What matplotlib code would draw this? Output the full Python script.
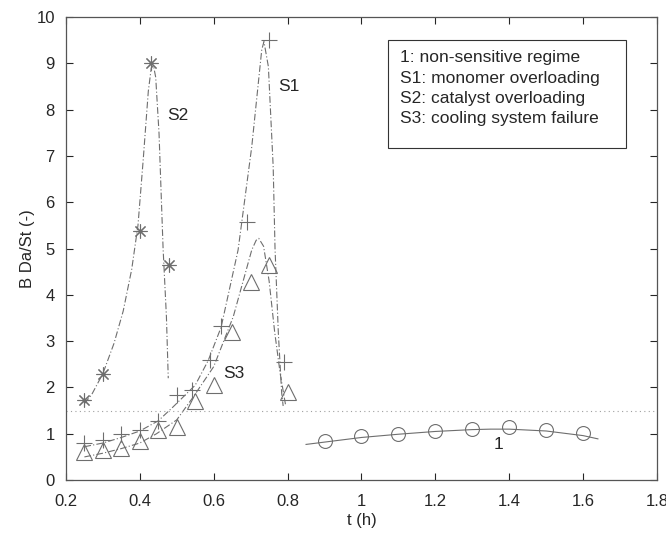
import matplotlib
matplotlib.use("Agg")
import matplotlib.pyplot as plt
from matplotlib.patches import Rectangle

plt.rcParams['font.family'] = ['Liberation Sans', 'DejaVu Sans']

# ---- measured points ----
t_s1 = [0.25, 0.30, 0.35, 0.40, 0.45, 0.50, 0.54, 0.59, 0.62, 0.69, 0.75, 0.79]
v_s1 = [0.80, 0.87, 0.99, 1.08, 1.27, 1.84, 1.95, 2.59, 3.32, 5.58, 9.50, 2.56]

t_s2 = [0.25, 0.30, 0.40, 0.43, 0.48]
v_s2 = [1.72, 2.30, 5.38, 9.00, 4.65]

t_s3 = [0.25, 0.30, 0.35, 0.40, 0.45, 0.50, 0.55, 0.60, 0.65, 0.70, 0.75, 0.80]
v_s3 = [0.61, 0.65, 0.70, 0.84, 1.08, 1.14, 1.70, 2.06, 3.19, 4.28, 4.64, 1.91]

t_1 = [0.9, 1.0, 1.1, 1.2, 1.3, 1.4, 1.5, 1.6]
v_1 = [0.84, 0.95, 1.00, 1.06, 1.10, 1.15, 1.09, 1.02]

# ---- model curves ----
ct_s1 = [0.25, 0.30, 0.35, 0.40, 0.45, 0.49, 0.55, 0.585, 0.62, 0.666, 0.703, 0.73, 0.736, 0.748, 0.761, 0.766, 0.775, 0.784, 0.788]
cv_s1 = [0.72, 0.80, 0.92, 1.06, 1.28, 1.58, 2.05, 2.58, 3.3, 4.97, 7.2, 9.29, 9.47, 8.93, 6.77, 5.0, 3.17, 1.88, 1.6]

ct_s2 = [0.25, 0.27, 0.30, 0.33, 0.355, 0.378, 0.395, 0.409, 0.423, 0.431, 0.437, 0.443, 0.452, 0.463, 0.472, 0.477]
cv_s2 = [1.65, 1.85, 2.30, 2.95, 3.65, 4.55, 5.5, 6.9, 8.4, 8.9, 8.95, 8.7, 7.49, 5.0, 3.53, 2.2]

ct_s3 = [0.25, 0.30, 0.35, 0.40, 0.445, 0.50, 0.545, 0.60, 0.653, 0.703, 0.715, 0.722, 0.735, 0.75, 0.765, 0.78, 0.795]
cv_s3 = [0.50, 0.58, 0.68, 0.80, 1.00, 1.30, 1.80, 2.45, 3.53, 4.97, 5.18, 5.22, 5.05, 4.3, 3.2, 2.3, 1.6]

ct_1 = [0.85, 0.9, 1.0, 1.1, 1.2, 1.3, 1.35, 1.4, 1.5, 1.6, 1.64]
cv_1 = [0.77, 0.82, 0.92, 0.99, 1.05, 1.09, 1.10, 1.10, 1.06, 0.96, 0.89]

threshold = 1.5
legend_lines = ["1: non-sensitive regime", "S1: monomer overloading",
                "S2: catalyst overloading", "S3: cooling system failure"]

grey = '#6e6e6e'
txt = '#262626'
fig = plt.figure(figsize=(6.66, 5.34), dpi=100)
ax = fig.add_axes([0.099, 0.101, 0.8875, 0.867])

lw = 0.8
dashdot = (0, (6, 2, 1, 2))
ax.plot(ct_s1, cv_s1, color=grey, lw=lw, ls=dashdot)
ax.plot(ct_s2, cv_s2, color=grey, lw=lw, ls=dashdot)
ax.plot(ct_s3, cv_s3, color=grey, lw=lw, ls=dashdot)
ax.plot(ct_1, cv_1, color=grey, lw=lw, ls='-')
ax.axhline(threshold, color='#a0a0a0', lw=0.8, ls=(0, (1, 3)))

ax.plot(t_s1, v_s1, ls='none', marker='+', ms=11, mew=0.8, color=grey)
ax.plot(t_s2, v_s2, ls='none', marker=(8, 2, 0), ms=10, mew=0.8, color=grey)
ax.plot(t_s3, v_s3, ls='none', marker='^', ms=11, mew=0.8, mfc='none', mec=grey)
ax.plot(t_1, v_1, ls='none', marker='o', ms=10, mew=0.8, mfc='none', mec=grey)

fs = 12.5
ax.text(0.473, 7.88, "S2", fontsize=fs, va='center', ha='left', color=txt)
ax.text(0.774, 8.51, "S1", fontsize=fs, va='center', ha='left', color=txt)
ax.text(0.625, 2.31, "S3", fontsize=fs, va='center', ha='left', color=txt)
ax.text(1.37, 0.76, "1", fontsize=fs, va='center', ha='center', color=txt)

# legend-like text box
ax.add_patch(Rectangle((1.072, 7.17), 0.644, 2.333, fc='white', ec='#333333',
                       lw=0.8, zorder=5))
for i, line in enumerate(legend_lines):
    ax.text(1.104, 9.12 - 0.44 * i, line, fontsize=fs, va='center', ha='left',
            color=txt, zorder=6)

ax.set_xlim(0.2, 1.8)
ax.set_ylim(0, 10)
ax.set_xticks([0.2, 0.4, 0.6, 0.8, 1, 1.2, 1.4, 1.6, 1.8])
ax.set_xticklabels(['0.2', '0.4', '0.6', '0.8', '1', '1.2', '1.4', '1.6', '1.8'])
ax.set_yticks(range(0, 11))
ax.tick_params(direction='in', top=True, right=True, length=5, width=0.8,
               labelsize=12, colors=txt)
ax.tick_params(axis='x', pad=10)
ax.tick_params(axis='y', pad=8)
for s in ax.spines.values():
    s.set_color('#555555')
    s.set_linewidth(0.9)
ax.set_xlabel("t (h)", fontsize=12, color=txt, labelpad=3)
ax.set_ylabel("B Da/St (-)", fontsize=12, color=txt, labelpad=1)

fig.savefig("out.png", dpi=100)
